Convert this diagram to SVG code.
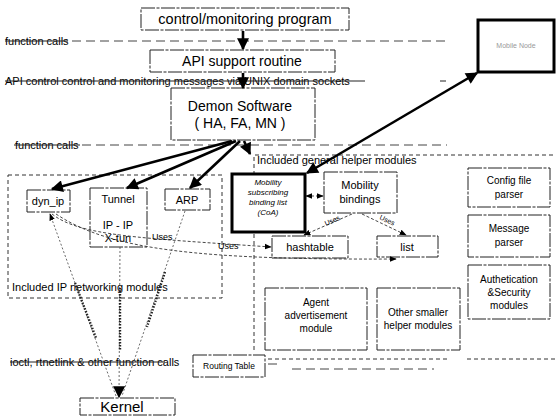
<svg xmlns="http://www.w3.org/2000/svg" width="559" height="416" viewBox="0 0 559 416">
<defs>
<marker id="big" viewBox="0 0 10 10" refX="9" refY="5" markerWidth="13" markerHeight="12" markerUnits="userSpaceOnUse" orient="auto-start-reverse"><path d="M0,0 L10,5 L0,10 z" fill="#000"/></marker>
<marker id="sm" viewBox="0 0 10 10" refX="9" refY="5" markerWidth="7" markerHeight="7" markerUnits="userSpaceOnUse" orient="auto-start-reverse"><path d="M0,1 L10,5 L0,9 z" fill="#000"/></marker>
</defs>
<style>
text{font-family:"Liberation Sans",Arial,sans-serif;fill:#000}
.box{fill:#fff;stroke:#222;stroke-width:1;stroke-dasharray:14 1.5 3 1.5}
.region{fill:none;stroke:#333;stroke-width:1;stroke-dasharray:4 3}
.thick{fill:#fff;stroke:#000;stroke-width:3}
.sep{stroke:#444;stroke-width:1;stroke-dasharray:9 5;fill:none}
.strike{stroke:#222;stroke-width:1}
.bold{stroke:#000;stroke-width:2.6;fill:none}
.dash{stroke:#333;stroke-width:0.9;stroke-dasharray:3 2;fill:none}
.dot{stroke:#444;stroke-width:0.8;stroke-dasharray:2 2;fill:none}
.hatch{stroke:#222;stroke-width:2.4;stroke-dasharray:1.5 1.5;fill:none}
.lab{font-size:11px}
.c{text-anchor:middle}
</style>

<g id="separators">
  <text class="lab" x="5" y="45">function calls</text>
  <line class="strike" x1="5" y1="41" x2="68" y2="41"/>
  <line class="sep" x1="72" y1="41" x2="446" y2="41"/>
  <text class="lab" x="5" y="85">API control control and monitoring messages via UNIX domain sockets</text>
  <line class="strike" x1="5" y1="81" x2="365" y2="81"/>
  <line class="strike" x1="440" y1="81" x2="446" y2="81"/>
  <text class="lab" x="15" y="149">function calls</text>
  <line class="strike" x1="14" y1="145" x2="80" y2="145"/>
  <line class="sep" x1="82" y1="145" x2="447" y2="145"/>
  <text class="lab" x="10" y="366">ioctl, rtnetlink &amp; other function calls</text>
  <line class="strike" x1="10" y1="362" x2="165" y2="362"/>
  <line class="sep" x1="268" y1="364" x2="280" y2="364"/>
  <line class="sep" x1="292" y1="369" x2="434" y2="369"/>
</g>

<g id="regions">
  <g id="ip-modules">
    <rect class="region" x="8" y="175" width="214" height="123"/>
    <text class="lab" x="12" y="291">Included IP networking modules</text>
  </g>
  <g id="helper-modules">
    <path class="region" d="M254 350 V155 H556 M268 359 H450 M467 359 H556"/>
    <text class="lab" x="257" y="164">Included general helper modules</text>
  </g>
</g>

<g id="nodes">
  <g id="control"><rect class="box" x="141" y="8" width="208" height="22"/><text class="c" x="245" y="24" font-size="14.5">control/monitoring program</text></g>
  <g id="api"><rect class="box" x="150" y="50" width="185" height="22"/><text class="c" x="242" y="66" font-size="14">API support routine</text></g>
  <g id="demon"><rect class="box" x="171" y="88" width="144" height="52"/><text class="c" x="240" y="111" font-size="14">Demon Software</text><text class="c" x="240" y="128" font-size="14">( HA, FA, MN )</text></g>
  <g id="remote"><rect class="thick" x="478" y="20" width="76" height="52"/><text class="c" x="516" y="48" font-size="7" style="fill:#999">Mobile Node</text></g>
  <g id="dyn_ip"><rect class="box" x="27" y="190" width="43" height="22"/><text class="c lab" x="48" y="205">dyn_ip</text></g>
  <g id="tunnel"><rect class="box" x="90" y="188" width="57" height="59"/><text class="c lab" x="118" y="203">Tunnel</text><text class="c lab" x="118" y="229">IP - IP</text><text class="c lab" x="118" y="242">X-tun</text></g>
  <g id="arp"><rect class="box" x="165" y="189" width="45" height="21"/><text class="c lab" x="187" y="204">ARP</text></g>
  <g id="subs"><rect class="thick" x="232" y="174" width="73" height="58"/>
    <text class="c" x="268" y="185" font-size="8" font-style="italic">Mobility</text>
    <text class="c" x="268" y="195" font-size="8" font-style="italic">subscribing</text>
    <text class="c" x="268" y="205" font-size="8" font-style="italic">binding list</text>
    <text class="c" x="268" y="215" font-size="8" font-style="italic">(CoA)</text></g>
  <g id="bindings"><rect class="box" x="324" y="172" width="73" height="41"/><text class="c lab" x="360" y="189">Mobility</text><text class="c lab" x="360" y="203">bindings</text></g>
  <g id="hashtable"><rect class="box" x="272" y="236" width="76" height="22"/><text class="c lab" x="310" y="251">hashtable</text></g>
  <g id="list"><rect class="box" x="377" y="236" width="61" height="21"/><text class="c lab" x="407" y="251">list</text></g>
  <g id="config"><rect class="box" x="468" y="168" width="82" height="39"/><text class="c" x="509" y="184" font-size="10">Config file</text><text class="c" x="509" y="198" font-size="10">parser</text></g>
  <g id="message"><rect class="box" x="468" y="215" width="82" height="42"/><text class="c" x="509" y="232" font-size="10">Message</text><text class="c" x="509" y="246" font-size="10">parser</text></g>
  <g id="auth"><rect class="box" x="468" y="265" width="82" height="54"/><text class="c" x="509" y="283" font-size="10">Authetication</text><text class="c" x="509" y="296" font-size="10">&amp;Security</text><text class="c" x="509" y="309" font-size="10">modules</text></g>
  <g id="agent"><rect class="box" x="265" y="288" width="102" height="62"/><text class="c" x="316" y="306" font-size="10">Agent</text><text class="c" x="316" y="319" font-size="10">advertisement</text><text class="c" x="316" y="332" font-size="10">module</text></g>
  <g id="other"><rect class="box" x="377" y="288" width="83" height="62"/><text class="c" x="418" y="316" font-size="10">Other smaller</text><text class="c" x="418" y="329" font-size="10">helper modules</text></g>
  <g id="routing"><rect class="box" x="193" y="355" width="72" height="22"/><text class="c" x="229" y="369" font-size="8.5">Routing Table</text></g>
  <g id="kernel"><rect class="box" x="80" y="398" width="95" height="17"/><text class="c" x="122" y="412" font-size="15">Kernel</text></g>
</g>

<g id="connectors">
  <line class="bold" x1="243" y1="31" x2="243" y2="49" marker-end="url(#big)"/>
  <line class="bold" x1="243" y1="73" x2="243" y2="88" marker-end="url(#big)"/>
  <line class="bold" x1="232" y1="141" x2="52" y2="189" marker-end="url(#big)"/>
  <line class="bold" x1="236" y1="141" x2="127" y2="188" marker-end="url(#big)"/>
  <line class="bold" x1="240" y1="141" x2="190" y2="188" marker-end="url(#big)"/>
  <line class="bold" x1="244" y1="141" x2="250" y2="154" marker-end="url(#big)"/>
  <line class="bold" x1="307" y1="173" x2="477" y2="73" marker-start="url(#big)" marker-end="url(#big)"/>
  <line class="dash" x1="306" y1="196" x2="323" y2="196" marker-start="url(#sm)" marker-end="url(#sm)"/>
  <line class="dash" x1="352" y1="214" x2="304" y2="235" marker-end="url(#sm)"/>
  <line class="dash" x1="362" y1="214" x2="406" y2="235" marker-end="url(#sm)"/>
  <text font-size="7" transform="translate(326 226) rotate(-24)">Uses</text>
  <text font-size="7" transform="translate(379 219) rotate(25)">Uses</text>
  <path class="dash" d="M52 214 C80 236 140 238 271 247" marker-end="url(#sm)"/>
  <path class="dash" d="M56 214 C110 250 200 260 396 259" marker-end="url(#sm)"/>
  <text font-size="9" x="152" y="240">Uses</text>
  <text font-size="9" x="218" y="249">Uses</text>
  <line class="dot" x1="116" y1="396" x2="50" y2="214" marker-end="url(#sm)"/>
  <line class="dot" x1="120" y1="247" x2="119" y2="397" marker-end="url(#big)"/>
  <line class="dot" x1="185" y1="211" x2="122" y2="396"/>
  <line class="hatch" x1="75" y1="283" x2="96" y2="338"/>
  <line class="hatch" x1="120" y1="288" x2="120" y2="350"/>
  <line class="hatch" x1="165" y1="272" x2="147" y2="327"/>
</g>
</svg>
